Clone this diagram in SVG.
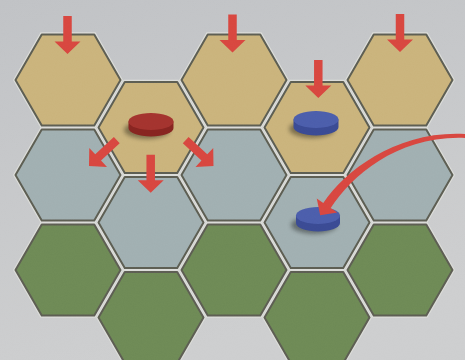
<svg xmlns="http://www.w3.org/2000/svg" xmlns:xlink="http://www.w3.org/1999/xlink" width="465" height="360" viewBox="0 0 465 360">
<defs>
<style>
.gap{fill:#dcddd9;stroke:none}
.hex{stroke:#5c5d52;stroke-width:2;stroke-linejoin:round}
.tan{fill:#cab37b}
.blue{fill:#a0afb1}
.green{fill:#6d8955}
.arrow{fill:#d8463f}
.shadow{fill:#000;opacity:.38}
</style>
<linearGradient id="bg" x1="0" y1="0" x2="0.3" y2="1">
<stop offset="0" stop-color="#c0c2c5"/>
<stop offset="1" stop-color="#cdcecf"/>
</linearGradient>
<filter id="blur" x="-50%" y="-50%" width="200%" height="200%"><feGaussianBlur stdDeviation="2.2"/></filter>
<filter id="noise" x="0" y="0" width="100%" height="100%">
<feTurbulence type="fractalNoise" baseFrequency="0.9" numOctaves="2" seed="3"/>
<feColorMatrix type="matrix" values="0 0 0 0 0.5  0 0 0 0 0.5  0 0 0 0 0.5  0 0 0 0.6 0"/>
</filter>
<polygon id="hexU" points="55,0 27.5,47.63 -27.5,47.63 -55,0 -27.5,-47.63 27.5,-47.63"/>
<polygon id="hexP" points="52.5,0 26.25,45.47 -26.25,45.47 -52.5,0 -26.25,-45.47 26.25,-45.47"/>
<path id="arr" d="M-4.25,-38 H4.25 V-12.5 H13 L0,0 L-13,-12.5 H-4.25 Z"/>
</defs>
<rect width="465" height="360" fill="url(#bg)"/>
<g id="gaps" class="gap">
<use xlink:href="#hexU" x="68" y="80"/><use xlink:href="#hexU" x="68" y="175"/><use xlink:href="#hexU" x="68" y="270"/>
<use xlink:href="#hexU" x="151" y="127.5"/><use xlink:href="#hexU" x="151" y="222.5"/><use xlink:href="#hexU" x="151" y="317.5"/>
<use xlink:href="#hexU" x="234" y="80"/><use xlink:href="#hexU" x="234" y="175"/><use xlink:href="#hexU" x="234" y="270"/>
<use xlink:href="#hexU" x="317" y="127.5"/><use xlink:href="#hexU" x="317" y="222.5"/><use xlink:href="#hexU" x="317" y="317.5"/>
<use xlink:href="#hexU" x="400" y="80"/><use xlink:href="#hexU" x="400" y="175"/><use xlink:href="#hexU" x="400" y="270"/>
</g>
<g id="hex-c0r0"><use xlink:href="#hexP" class="hex tan" x="68" y="80"/></g>
<g id="hex-c0r1"><use xlink:href="#hexP" class="hex blue" x="68" y="175"/></g>
<g id="hex-c0r2"><use xlink:href="#hexP" class="hex green" x="68" y="270"/></g>
<g id="hex-c1r0"><use xlink:href="#hexP" class="hex tan" x="151" y="127.5"/></g>
<g id="hex-c1r1"><use xlink:href="#hexP" class="hex blue" x="151" y="222.5"/></g>
<g id="hex-c1r2"><use xlink:href="#hexP" class="hex green" x="151" y="317.5"/></g>
<g id="hex-c2r0"><use xlink:href="#hexP" class="hex tan" x="234" y="80"/></g>
<g id="hex-c2r1"><use xlink:href="#hexP" class="hex blue" x="234" y="175"/></g>
<g id="hex-c2r2"><use xlink:href="#hexP" class="hex green" x="234" y="270"/></g>
<g id="hex-c3r0"><use xlink:href="#hexP" class="hex tan" x="317" y="127.5"/></g>
<g id="hex-c3r1"><use xlink:href="#hexP" class="hex blue" x="317" y="222.5"/></g>
<g id="hex-c3r2"><use xlink:href="#hexP" class="hex green" x="317" y="317.5"/></g>
<g id="hex-c4r0"><use xlink:href="#hexP" class="hex tan" x="400" y="80"/></g>
<g id="hex-c4r1"><use xlink:href="#hexP" class="hex blue" x="400" y="175"/></g>
<g id="hex-c4r2"><use xlink:href="#hexP" class="hex green" x="400" y="270"/></g>
<g id="puck-red">
<ellipse class="shadow" cx="147" cy="130" rx="23" ry="9" filter="url(#blur)"/>
<path d="M128.5,121.5 V128 A22.5,8.5 0 0 0 173.5,128 V121.5 Z" fill="#862420"/>
<ellipse cx="151" cy="121.5" rx="22.5" ry="8.5" fill="#a3332e"/>
</g>
<g id="puck-blue-1">
<ellipse class="shadow" cx="312" cy="129" rx="23" ry="9" filter="url(#blur)"/>
<path d="M293.5,119.5 V127 A22.5,8.5 0 0 0 338.5,127 V119.5 Z" fill="#3a4a93"/>
<ellipse cx="316" cy="119.5" rx="22.5" ry="8.5" fill="#4b5dab"/>
</g>
<g id="puck-blue-2">
<ellipse class="shadow" cx="314" cy="225" rx="23" ry="9" filter="url(#blur)"/>
<path d="M296,215.5 V223 A22,8.5 0 0 0 340,223 V215.5 Z" fill="#3a4a93"/>
<ellipse cx="318" cy="215.5" rx="22" ry="8.5" fill="#4b5dab"/>
</g>
<g id="arrows" class="arrow">
<use xlink:href="#arr" transform="translate(67.5,54)"/>
<use xlink:href="#arr" transform="translate(232.5,52.5)"/>
<use xlink:href="#arr" transform="translate(400,52)"/>
<use xlink:href="#arr" transform="translate(318.3,98)"/>
<use xlink:href="#arr" transform="translate(150.7,192.7)"/>
<use xlink:href="#arr" transform="translate(89,166) rotate(47)"/>
<use xlink:href="#arr" transform="translate(213.5,166) rotate(-47)"/>
<path d="M467,134 C400,129.5 347,168 323.3,202.9 L316.75,198.4 L320.2,215.3 L337.25,212.6 L330.7,208.1 C353,174 400,134.5 467,138 Z"/>
</g>
<rect width="465" height="360" filter="url(#noise)" opacity="0.12" style="mix-blend-mode:overlay"/>
</svg>
